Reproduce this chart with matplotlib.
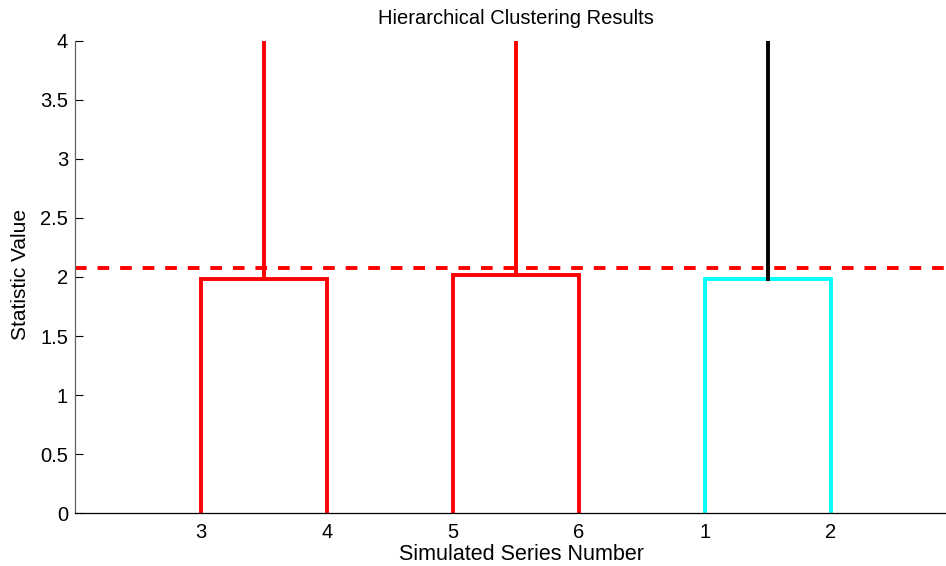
import matplotlib
matplotlib.use("Agg")
import matplotlib.pyplot as plt

plt.rcParams['font.family'] = ['Liberation Sans', 'DejaVu Sans']

# Leaf order (labels) and merges
leaf_labels = ['3', '4', '5', '6', '1', '2']
# merges: (left leaf index, right leaf index, height, color)
merge_left = [1, 3, 5]
merge_right = [2, 4, 6]
merge_height = [1.98, 2.013, 1.985]
merge_color = ['#ff0000', '#ff0000', '#00ffff']
stem_color = ['#ff0000', '#ff0000', '#000000']
top_height = 5.0
cutoff = 2.08

W, H = 946, 566
fig = plt.figure(figsize=(W / 100, H / 100), dpi=100)
x0, x1 = 75, 957
y0, y1 = 513.3, 40.7
ax = fig.add_axes([x0 / W, 1 - y0 / H, (x1 - x0) / W, (y0 - y1) / H])

lw = 2.8
for l, r, h, c, sc in zip(merge_left, merge_right, merge_height, merge_color, stem_color):
    ax.plot([l, l, r, r], [0, h, h, 0], color=c, lw=lw, solid_joinstyle='miter', clip_on=True)
    m = (l + r) / 2
    ax.plot([m, m], [h, top_height], color=sc, lw=lw, clip_on=True)

ax.axhline(cutoff, color='#ff0000', lw=lw, dashes=(3, 2.8))

fs = 14.5
ax.set_xlim(0, 7)
ax.set_ylim(0, 4)
ax.set_xticks(range(1, 7))
ax.set_xticklabels(leaf_labels)
ax.set_yticks([0, 0.5, 1, 1.5, 2, 2.5, 3, 3.5, 4])
ax.set_yticklabels(['0', '0.5', '1', '1.5', '2', '2.5', '3', '3.5', '4'])
ax.tick_params(axis='y', direction='in', length=5.5, width=0.8, labelsize=fs, pad=5)
ax.tick_params(axis='x', direction='in', length=0, labelsize=fs, pad=7)
for s in ['top', 'right']:
    ax.spines[s].set_visible(False)
ax.spines['left'].set_color('#606060')
ax.spines['left'].set_linewidth(0.9)
ax.spines['bottom'].set_linewidth(0.9)

fig.text(516 / W, 1 - 19 / H, 'Hierarchical Clustering Results', ha='center', va='center', fontsize=fs)
fig.text(521 / W, 1 - 555 / H, 'Simulated Series Number', ha='center', va='center', fontsize=15.5)
fig.text(21 / W, 1 - 275 / H, 'Statistic Value', ha='center', va='center', rotation=90, fontsize=15)

fig.savefig('out.png', dpi=100)
